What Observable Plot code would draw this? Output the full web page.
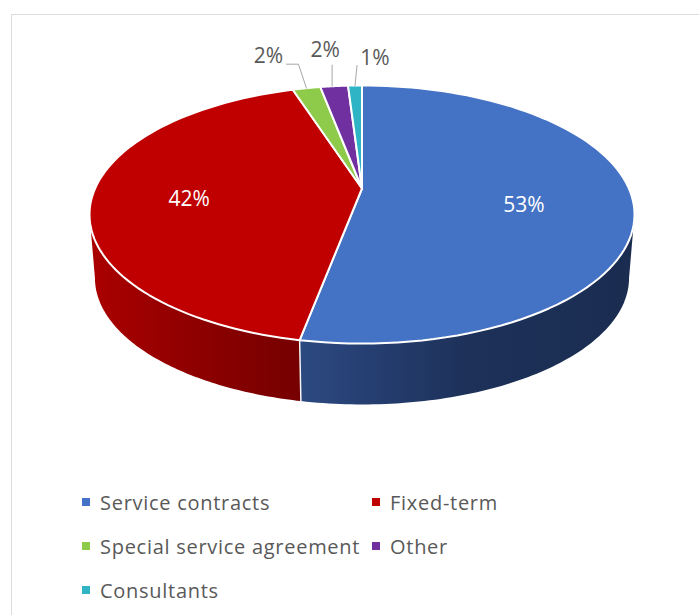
<!DOCTYPE html>
<html>
<head>
<meta charset="utf-8">
<script src="https://cdn.jsdelivr.net/npm/d3@7"></script>
<script src="https://cdn.jsdelivr.net/npm/@observablehq/plot@0.6"></script>
<style>
  html, body { margin: 0; padding: 0; background: #fff; overflow: hidden; }
  #frame { position: absolute; left: 11px; top: 14px; width: 700px; height: 620px;
           border-left: 1px solid #dcdcdc; border-top: 1px solid #dcdcdc; }
  #chart { position: absolute; left: 0; top: 0; }
  #legend { position: absolute; left: 82px; top: 480px; display: grid;
            grid-template-columns: 290px auto; grid-auto-rows: 44px;
            font: 20px "Open Sans", sans-serif; letter-spacing: 0.72px; color: #595959; }
  #legend div { display: flex; align-items: center; white-space: nowrap; height: 44px; }
  #legend i { display: inline-block; width: 8px; height: 8px; margin-right: 10px; }
</style>
</head>
<body>
<div id="frame"></div>
<div id="chart"></div>
<div id="legend"></div>
<script>
// Employment categories and their share of staff, in percent
const categories = ["Service contracts", "Fixed-term", "Special service agreement", "Other", "Consultants"];
const shares = [53, 42, 2, 2, 1];
const colors = ["#4472c4", "#c00000", "#8fcb4b", "#7030a0", "#2fb4c6"];

// Pixel nudges from each slice's rim midpoint to its percentage label
const labelNudges = [[-109, 5], [97, 3], [-38, -32], [-9, -36], [20, -27]];
// Pixel nudges of each leader's points, measured from the rim midpoint
const leaderPaths = [
  null,
  null,
  [[0, 0], [-8, -24], [-20, -24]],
  [[-2, 0], [-2, -21]],
  [[0, 0], [2, -20]]
];

// Tilted disc: perspective strength and the pixel extent of one scale unit
const persp = 0.2016, unitX = 266.9, unitY = 123.8, cx = 361.5, cy = 188;
const wallDrop = 0.517, wallScale = 0.98;

// Project a point on the disc (angle clockwise from twelve o'clock) to plot units
function rim(theta) {
  const u = Math.sin(theta), v = -Math.cos(theta), d = 1 - persp * v;
  return {x: u / d, y: v / d};
}
const lower = (p) => ({x: p.x * wallScale, y: p.y * wallScale + wallDrop});
const nudge = (p, dx, dy) => ({x: p.x + dx / unitX, y: p.y + dy / unitY});
const arc = (a0, a1) => d3.range(0, 91).map((i) => rim(a0 + (a1 - a0) * i / 90));

const total = d3.sum(shares);
const bounds = [0, ...d3.cumsum(shares)].map((c) => c / total * 2 * Math.PI);

// Top face of each slice: apex, rim arc, back to the apex
const faces = categories.flatMap((category, i) => {
  const apex = {x: 0, y: 0};
  return [apex, ...arc(bounds[i], bounds[i + 1]), apex].map((p) => ({...p, category}));
});

// Side walls run from the seam to the point where the rim turns out of view
const sideTurn = Math.acos(-persp);
function wall(a0, a1) {
  const top = arc(a0, a1);
  return [...top, ...top.slice().reverse().map(lower)];
}
const wallBlue = wall(sideTurn, bounds[1]);
const wallRed = wall(bounds[1], 2 * Math.PI - sideTurn);
const seamTop = rim(bounds[1]), seamBottom = lower(seamTop);

const mids = shares.map((_, i) => rim((bounds[i] + bounds[i + 1]) / 2));
const labels = categories.map((category, i) => ({
  ...nudge(mids[i], ...labelNudges[i]),
  text: `${shares[i]}%`,
  inside: i < 2
}));
const leaders = categories.flatMap((category, i) =>
  leaderPaths[i] ? leaderPaths[i].map(([dx, dy]) => ({...nudge(mids[i], dx, dy), category})) : []
);

const gradients = () => {
  const svgNS = "http://www.w3.org/2000/svg";
  const defs = document.createElementNS(svgNS, "defs");
  const build = (id, stops) => {
    const g = document.createElementNS(svgNS, "linearGradient");
    g.setAttribute("id", id);
    for (const [offset, color] of stops) {
      const s = document.createElementNS(svgNS, "stop");
      s.setAttribute("offset", offset);
      s.setAttribute("stop-color", color);
      g.appendChild(s);
    }
    defs.appendChild(g);
  };
  build("wall-blue", [[0, "#2c4a80"], [0.2, "#263f72"], [0.5, "#1d3159"], [1, "#1a2c50"]]);
  build("wall-red", [[0, "#ab0000"], [0.5, "#8e0000"], [1, "#760000"]]);
  return defs;
};

const chart = Plot.plot({
  width: 699,
  height: 470,
  margin: 0,
  style: {background: "transparent", fontFamily: "'Open Sans', sans-serif"},
  x: {axis: null, domain: [-1, 1], range: [cx - unitX, cx + unitX]},
  y: {axis: null, domain: [-1, 1], range: [cy - unitY, cy + unitY]},
  color: {domain: categories, range: colors},
  marks: [
    gradients,
    Plot.line(wallBlue, {x: "x", y: "y", fill: "url(#wall-blue)", stroke: "none"}),
    Plot.line(wallRed, {x: "x", y: "y", fill: "url(#wall-red)", stroke: "none"}),
    Plot.link([0], {x1: () => seamTop.x, y1: () => seamTop.y, x2: () => seamBottom.x, y2: () => seamBottom.y,
                    stroke: "#f4f4f4", strokeWidth: 1.5}),
    Plot.line(faces, {x: "x", y: "y", z: "category", fill: "category", stroke: "white", strokeWidth: 2, strokeLinejoin: "round"}),
    Plot.line(leaders, {x: "x", y: "y", z: "category", stroke: "#a6a6a6", strokeWidth: 1}),
    Plot.text(labels.filter((d) => d.inside), {x: "x", y: "y", text: "text", fill: "white", fontSize: 21}),
    Plot.text(labels.filter((d) => !d.inside), {x: "x", y: "y", text: "text", fill: "#595959", fontSize: 21})
  ]
});
document.getElementById("chart").appendChild(chart);

const legend = d3.select("#legend").selectAll("div").data(categories).join("div");
legend.append("i").style("background", (d, i) => colors[i]);
legend.append("span").text((d) => d);
</script>
</body>
</html>
